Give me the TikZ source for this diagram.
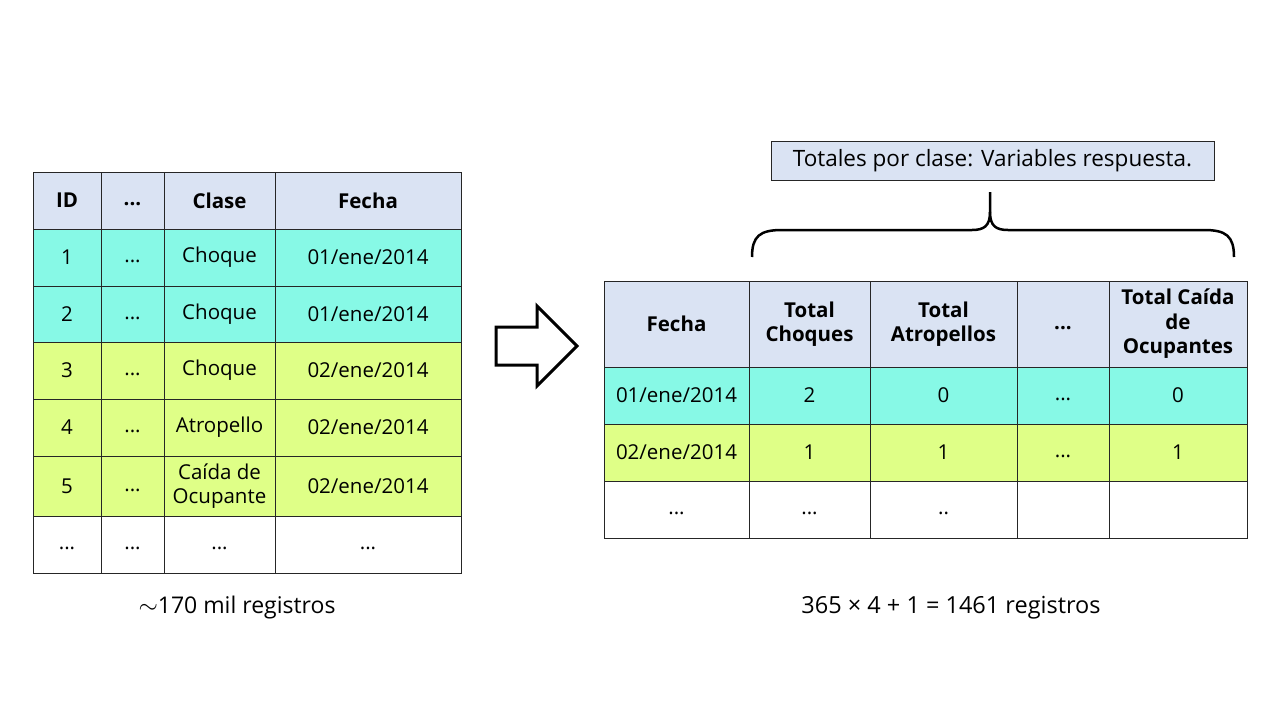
\documentclass[tikz,border=0pt]{standalone}
\usepackage{fontspec}
\setmainfont{Open Sans}
\newcommand{\dts}{\vphantom{Choque}...}
\begin{document}
\begin{tikzpicture}[x=1pt,y=-1pt,
  every node/.style={font=\fontsize{20.5}{24.5}\selectfont},
  cell/.style={draw=black!85, line width=1pt, inner sep=0pt, align=center, anchor=center},
  hdr/.style={cell, fill=hdrblue, font=\fontsize{20.5}{24.5}\selectfont\bfseries},
  cy/.style={cell, fill=rowcyan},
  yl/.style={cell, fill=rowlime},
  wh/.style={cell, fill=white},
  plain/.style={inner sep=0pt, anchor=center, font=\fontsize{23}{27}\selectfont}]
\definecolor{hdrblue}{RGB}{218,227,243}
\definecolor{rowcyan}{RGB}{135,249,230}
\definecolor{rowlime}{RGB}{223,255,135}
\useasboundingbox[fill=white] (0,0) rectangle (1280,720);

% ---------- left table ----------
\tikzset{c1/.style={minimum width=68pt},c2/.style={minimum width=63pt},
  c3/.style={minimum width=111pt},c4/.style={minimum width=186pt}}
\node[hdr,c1,minimum height=57pt] (L01) at (67,200.5) {ID};
\node[hdr,c2,minimum height=57pt] (L02) at (132.5,200.5) {\dts};
\node[hdr,c3,minimum height=57pt] (L03) at (219.5,200.5) {Clase};
\node[hdr,c4,minimum height=57pt] (L04) at (368,200.5) {Fecha};

\node[cy,c1,minimum height=57pt] (L11) at (67,257.5) {1};
\node[cy,c2,minimum height=57pt] (L12) at (132.5,257.5) {\dts};
\node[cy,c3,minimum height=57pt] (L13) at (219.5,257.5) {Choque};
\node[cy,c4,minimum height=57pt] (L14) at (368,257.5) {01/ene/2014};

\node[cy,c1,minimum height=56pt] (L21) at (67,314) {2};
\node[cy,c2,minimum height=56pt] (L22) at (132.5,314) {\dts};
\node[cy,c3,minimum height=56pt] (L23) at (219.5,314) {Choque};
\node[cy,c4,minimum height=56pt] (L24) at (368,314) {01/ene/2014};

\node[yl,c1,minimum height=57pt] (L31) at (67,370.5) {3};
\node[yl,c2,minimum height=57pt] (L32) at (132.5,370.5) {\dts};
\node[yl,c3,minimum height=57pt] (L33) at (219.5,370.5) {Choque};
\node[yl,c4,minimum height=57pt] (L34) at (368,370.5) {02/ene/2014};

\node[yl,c1,minimum height=57pt] (L41) at (67,427.5) {4};
\node[yl,c2,minimum height=57pt] (L42) at (132.5,427.5) {\dts};
\node[yl,c3,minimum height=57pt] (L43) at (219.5,427.5) {Atropello};
\node[yl,c4,minimum height=57pt] (L44) at (368,427.5) {02/ene/2014};

\node[yl,c1,minimum height=60pt] (L51) at (67,486) {5};
\node[yl,c2,minimum height=60pt] (L52) at (132.5,486) {\dts};
\node[yl,c3,minimum height=60pt] (L53) at (219.5,486) {Caída de\\Ocupante};
\node[yl,c4,minimum height=60pt] (L54) at (368,486) {02/ene/2014};

\node[wh,c1,minimum height=57pt] (L61) at (67,544.5) {\dts};
\node[wh,c2,minimum height=57pt] (L62) at (132.5,544.5) {\dts};
\node[wh,c3,minimum height=57pt] (L63) at (219.5,544.5) {\dts};
\node[wh,c4,minimum height=57pt] (L64) at (368,544.5) {\dts};

\node[plain] (leftcap) at (237,608) {$\sim$170 mil registros};

% ---------- arrow ----------
\draw[line width=3pt, line join=miter, fill=white]
  (496,327) -- (537,327) -- (537,306) -- (577,346) -- (537,386) -- (537,365) -- (496,365) -- cycle;

% ---------- right table ----------
\tikzset{d1/.style={minimum width=145pt},d2/.style={minimum width=121pt},
  d3/.style={minimum width=147pt},d4/.style={minimum width=92pt},d5/.style={minimum width=138pt}}
\node[hdr,d1,minimum height=86pt] (R01) at (676.5,324) {Fecha};
\node[hdr,d2,minimum height=86pt] (R02) at (809.5,324) {Total\\Choques};
\node[hdr,d3,minimum height=86pt] (R03) at (943.5,324) {Total\\Atropellos};
\node[hdr,d4,minimum height=86pt] (R04) at (1063,324) {\dts};
\node[hdr,d5,minimum height=86pt] (R05) at (1178,324) {Total Caída\\de\\Ocupantes};

\node[cy,d1,minimum height=57pt] (R11) at (676.5,395.5) {01/ene/2014};
\node[cy,d2,minimum height=57pt] (R12) at (809.5,395.5) {2};
\node[cy,d3,minimum height=57pt] (R13) at (943.5,395.5) {0};
\node[cy,d4,minimum height=57pt] (R14) at (1063,395.5) {\dts};
\node[cy,d5,minimum height=57pt] (R15) at (1178,395.5) {0};

\node[yl,d1,minimum height=57pt] (R21) at (676.5,452.5) {02/ene/2014};
\node[yl,d2,minimum height=57pt] (R22) at (809.5,452.5) {1};
\node[yl,d3,minimum height=57pt] (R23) at (943.5,452.5) {1};
\node[yl,d4,minimum height=57pt] (R24) at (1063,452.5) {\dts};
\node[yl,d5,minimum height=57pt] (R25) at (1178,452.5) {1};

\node[wh,d1,minimum height=57pt] (R31) at (676.5,509.5) {\dts};
\node[wh,d2,minimum height=57pt] (R32) at (809.5,509.5) {\dts};
\node[wh,d3,minimum height=57pt] (R33) at (943.5,509.5) {\vphantom{Choque}..};
\node[wh,d4,minimum height=57pt] (R34) at (1063,509.5) {};
\node[wh,d5,minimum height=57pt] (R35) at (1178,509.5) {};

\node[plain, font=\fontsize{23.5}{27}\selectfont] (rightcap) at (951,608) {365 × 4 + 1 = 1461 registros};

% ---------- label and brace ----------
\node[cell, fill=hdrblue, minimum width=443pt, minimum height=39pt, font=\fontsize{22.5}{26}\selectfont] (lab) at (992.5,160.5)
  {Totales por clase: Variables respuesta.};
\coordinate (bl) at (752,257);
\coordinate (br) at (1234,257);
\coordinate (tip) at (990,192);
\draw[line width=2.5pt, line cap=butt]
  (bl) .. controls (752,236) and (760,230) .. (782,230) -- (972,230)
  .. controls (984,230) and (990,226) .. (990,212) -- (tip);
\draw[line width=2.5pt, line cap=butt]
  (br) .. controls (1234,236) and (1226,230) .. (1204,230) -- (1008,230)
  .. controls (996,230) and (990,226) .. (990,212);
\end{tikzpicture}
\end{document}
